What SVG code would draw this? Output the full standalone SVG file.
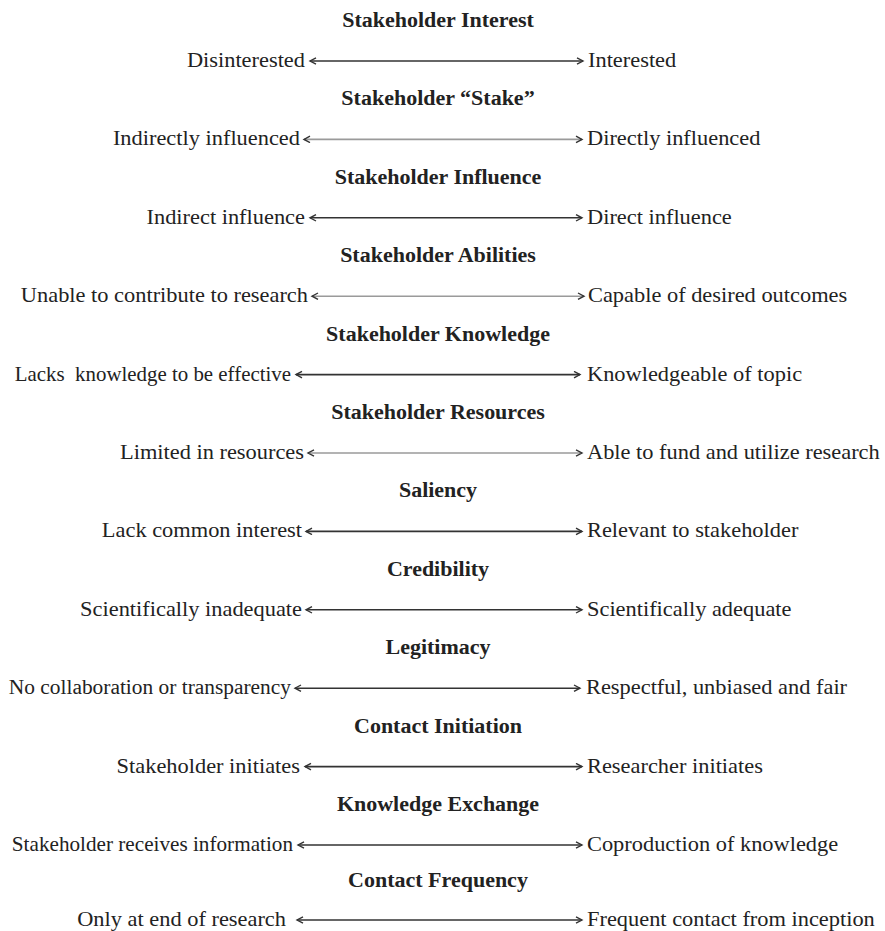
<svg xmlns="http://www.w3.org/2000/svg" width="885" height="931" viewBox="0 0 885 931">
<style>
text{font-family:"Liberation Serif","Times New Roman",serif;font-size:20px;fill:#222}
.h{font-weight:bold;text-anchor:middle}
.l{text-anchor:end}
.r{text-anchor:start}
.a{stroke:#333;stroke-width:1.6;fill:none;marker-start:url(#ah);marker-end:url(#ah)}
.g{stroke:#9a9a9a}
</style>
<defs>
<marker id="ah" markerUnits="userSpaceOnUse" markerWidth="10" markerHeight="10" refX="7" refY="4" orient="auto-start-reverse">
<path d="M1,0.8 L7,4 L1,7.2" fill="none" stroke="#333" stroke-width="1.4"/>
</marker>
</defs>
<rect width="885" height="931" fill="#fff"/>
<g id="connectors">
<line class="a" x1="310" y1="61" x2="583" y2="61"/>
<line class="a g" x1="304" y1="139.4" x2="582" y2="139.4"/>
<line class="a" x1="310" y1="217.8" x2="582" y2="217.8"/>
<line class="a g" x1="312" y1="296.2" x2="584" y2="296.2"/>
<line class="a" x1="296" y1="374.6" x2="580" y2="374.6"/>
<line class="a g" x1="308" y1="453" x2="582" y2="453"/>
<line class="a" x1="306" y1="531.4" x2="582" y2="531.4"/>
<line class="a" x1="306" y1="609.8" x2="582" y2="609.8"/>
<line class="a" x1="295" y1="688.2" x2="580" y2="688.2"/>
<line class="a" x1="305" y1="766.6" x2="582" y2="766.6"/>
<line class="a" x1="298" y1="845" x2="582" y2="845"/>
<line class="a" x1="297" y1="920" x2="582" y2="920"/>
</g>
<g id="interest">
<text class="h" transform="translate(438,27) scale(1.1,1)">Stakeholder Interest</text>
<text class="l" transform="translate(305,67) scale(1.12,1)">Disinterested</text>
<text class="r" transform="translate(588,67) scale(1.12,1)">Interested</text>
</g>
<g id="stake">
<text class="h" transform="translate(438,105.4) scale(1.1,1)">Stakeholder “Stake”</text>
<text class="l" transform="translate(300,145.4) scale(1.12,1)">Indirectly influenced</text>
<text class="r" transform="translate(587,145.4) scale(1.12,1)">Directly influenced</text>
</g>
<g id="influence">
<text class="h" transform="translate(438,183.8) scale(1.1,1)">Stakeholder Influence</text>
<text class="l" transform="translate(305,223.8) scale(1.12,1)">Indirect influence</text>
<text class="r" transform="translate(587,223.8) scale(1.12,1)">Direct influence</text>
</g>
<g id="abilities">
<text class="h" transform="translate(438,262.2) scale(1.1,1)">Stakeholder Abilities</text>
<text class="l" transform="translate(308,302.2) scale(1.12,1)">Unable to contribute to research</text>
<text class="r" transform="translate(588,302.2) scale(1.12,1)">Capable of desired outcomes</text>
</g>
<g id="knowledge">
<text class="h" transform="translate(438,340.6) scale(1.1,1)">Stakeholder Knowledge</text>
<text class="l" transform="translate(291,380.6) scale(1.045,1)" xml:space="preserve">Lacks  knowledge to be effective</text>
<text class="r" transform="translate(587,380.6) scale(1.12,1)">Knowledgeable of topic</text>
</g>
<g id="resources">
<text class="h" transform="translate(438,419) scale(1.1,1)">Stakeholder Resources</text>
<text class="l" transform="translate(304,459) scale(1.12,1)">Limited in resources</text>
<text class="r" transform="translate(587,459) scale(1.12,1)">Able to fund and utilize research</text>
</g>
<g id="saliency">
<text class="h" transform="translate(438,497.4) scale(1.1,1)">Saliency</text>
<text class="l" transform="translate(302,537.4) scale(1.12,1)">Lack common interest</text>
<text class="r" transform="translate(587,537.4) scale(1.12,1)">Relevant to stakeholder</text>
</g>
<g id="credibility">
<text class="h" transform="translate(438,575.8) scale(1.1,1)">Credibility</text>
<text class="l" transform="translate(302,615.8) scale(1.12,1)">Scientifically inadequate</text>
<text class="r" transform="translate(587,615.8) scale(1.12,1)">Scientifically adequate</text>
</g>
<g id="legitimacy">
<text class="h" transform="translate(438,654.2) scale(1.1,1)">Legitimacy</text>
<text class="l" transform="translate(291,694.2) scale(1.07,1)">No collaboration or transparency</text>
<text class="r" transform="translate(586,694.2) scale(1.12,1)">Respectful, unbiased and fair</text>
</g>
<g id="initiation">
<text class="h" transform="translate(438,732.6) scale(1.1,1)">Contact Initiation</text>
<text class="l" transform="translate(300,772.6) scale(1.12,1)">Stakeholder initiates</text>
<text class="r" transform="translate(587,772.6) scale(1.12,1)">Researcher initiates</text>
</g>
<g id="exchange">
<text class="h" transform="translate(438,811) scale(1.1,1)">Knowledge Exchange</text>
<text class="l" transform="translate(293,851) scale(1.06,1)">Stakeholder receives information</text>
<text class="r" transform="translate(587,851) scale(1.12,1)">Coproduction of knowledge</text>
</g>
<g id="frequency">
<text class="h" transform="translate(438,887.4) scale(1.1,1)">Contact Frequency</text>
<text class="l" transform="translate(286,926) scale(1.12,1)">Only at end of research</text>
<text class="r" transform="translate(587,926) scale(1.12,1)">Frequent contact from inception</text>
</g>
</svg>
